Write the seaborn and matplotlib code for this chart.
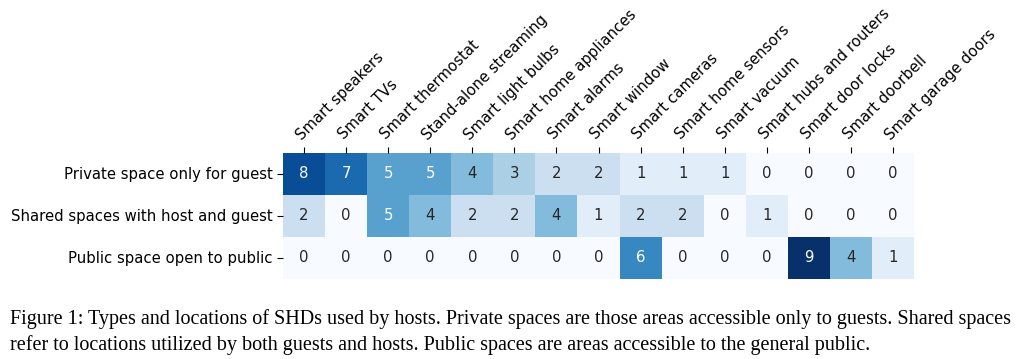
import numpy as np
import pandas as pd
import matplotlib
matplotlib.use("Agg")
import matplotlib.pyplot as plt
import seaborn as sns

# device types (columns) and locations (rows)
devices = ["Smart speakers", "Smart TVs", "Smart thermostat", "Stand-alone streaming",
           "Smart light bulbs", "Smart home appliances", "Smart alarms", "Smart window",
           "Smart cameras", "Smart home sensors", "Smart vacuum", "Smart hubs and routers",
           "Smart door locks", "Smart doorbell", "Smart garage doors"]
locations = ["Private space only for guest", "Shared spaces with host and guest",
             "Public space open to public"]

private_counts = [8, 7, 5, 5, 4, 3, 2, 2, 1, 1, 1, 0, 0, 0, 0]
shared_counts = [2, 0, 5, 4, 2, 2, 4, 1, 2, 2, 0, 1, 0, 0, 0]
public_counts = [0, 0, 0, 0, 0, 0, 0, 0, 6, 0, 0, 0, 9, 4, 1]

data = pd.DataFrame([private_counts, shared_counts, public_counts],
                    index=locations, columns=devices)

fig = plt.figure(figsize=(10.22, 3.59), dpi=100)
ax = fig.add_axes([283/1022, 1 - 279/359, 631/1022, 126/359])

sns.heatmap(data, ax=ax, cmap="Blues", vmin=0, vmax=9, annot=True, fmt="d",
            cbar=False, annot_kws={"fontsize": 10.7})

ax.xaxis.tick_top()
ax.set_xticklabels(devices, rotation=45, ha="left", rotation_mode="anchor", fontsize=10.7)
ax.set_yticklabels(locations, rotation=0, fontsize=10.7)
ax.tick_params(axis="both", length=4)

# caption below the chart
fig.text(10/1022, 1 - 319/359, "Figure 1: Types and locations of SHDs used by hosts. Private spaces are those areas accessible only to guests. Shared spaces",
         family="Liberation Serif", fontsize=14.5, va="center")
fig.text(10/1022, 1 - 345/359, "refer to locations utilized by both guests and hosts. Public spaces are areas accessible to the general public.",
         family="Liberation Serif", fontsize=14.5, va="center")

fig.savefig("out.png", dpi=100)
